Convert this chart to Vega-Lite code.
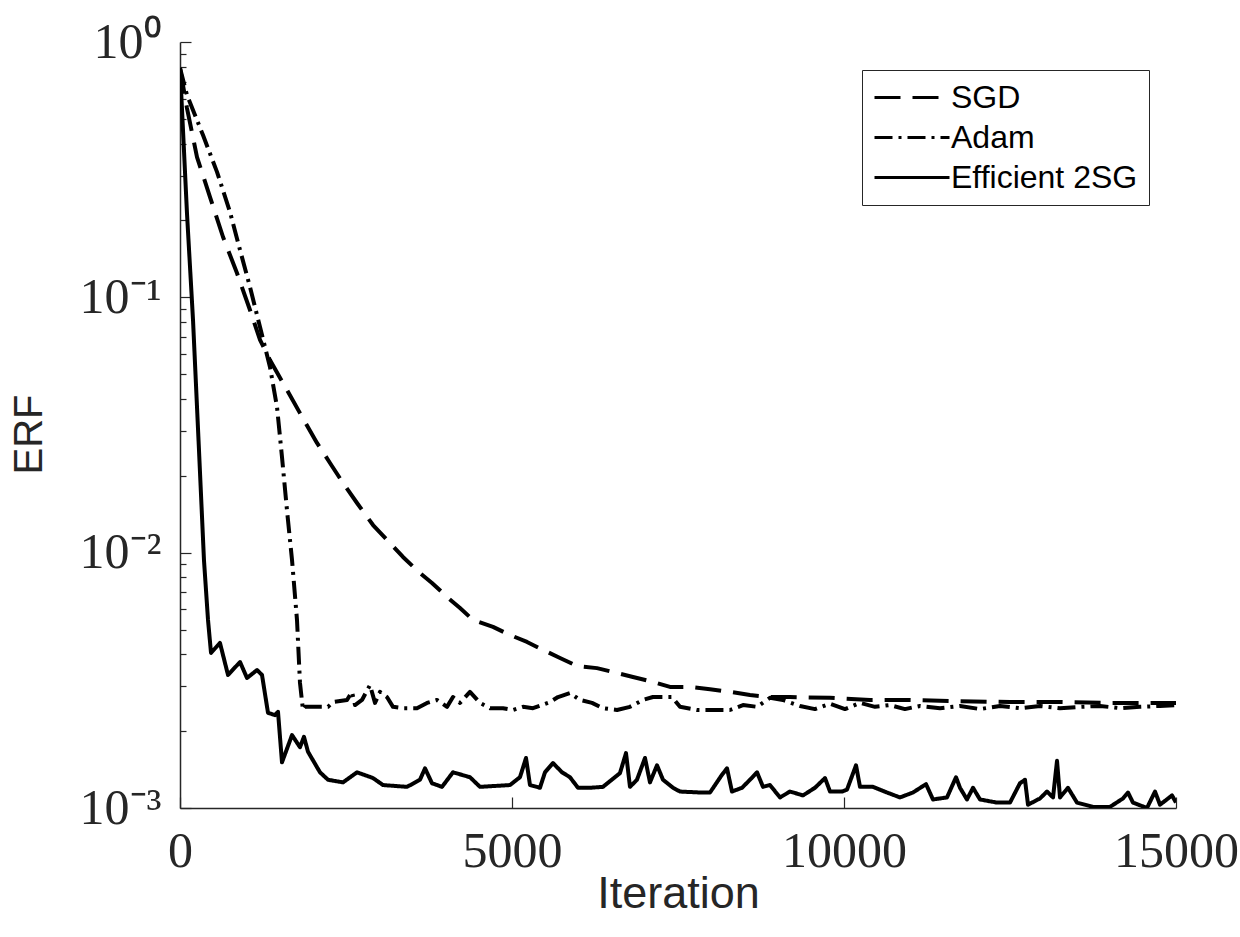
{
"$schema": "https://vega.github.io/schema/vega-lite/v6.json",
"autosize": "none",
"width": 996,
"height": 766,
"padding": {"left": 180, "top": 42, "right": 64, "bottom": 129},
"background": "white",
"config": {"view": {"stroke": null}},
"data": {"values": [
{"series":"SGD","iteration":0,"erf":0.791},{"series":"SGD","iteration":105,"erf":0.551},{"series":"SGD","iteration":256,"erf":0.3544},{"series":"SGD","iteration":452,"erf":0.247},{"series":"SGD","iteration":648,"erf":0.1723},{"series":"SGD","iteration":858,"erf":0.1245},{"series":"SGD","iteration":1054,"erf":0.0892},{"series":"SGD","iteration":1205,"erf":0.0681},{"series":"SGD","iteration":1355,"erf":0.0568},{"series":"SGD","iteration":1551,"erf":0.0462},{"series":"SGD","iteration":1807,"erf":0.0352},{"series":"SGD","iteration":2063,"erf":0.0269},{"series":"SGD","iteration":2259,"erf":0.02245},{"series":"SGD","iteration":2455,"erf":0.01874},{"series":"SGD","iteration":2666,"erf":0.01565},{"series":"SGD","iteration":2907,"erf":0.01283},{"series":"SGD","iteration":3358,"erf":0.00962},{"series":"SGD","iteration":3614,"erf":0.00832},{"series":"SGD","iteration":3795,"erf":0.00761},{"series":"SGD","iteration":4021,"erf":0.00671},{"series":"SGD","iteration":4217,"erf":0.00607},{"series":"SGD","iteration":4413,"erf":0.00545},{"series":"SGD","iteration":4714,"erf":0.00512},{"series":"SGD","iteration":4970,"erf":0.00476},{"series":"SGD","iteration":5226,"erf":0.00447},{"series":"SGD","iteration":5467,"erf":0.00416},{"series":"SGD","iteration":5723,"erf":0.00387},{"series":"SGD","iteration":5979,"erf":0.0036},{"series":"SGD","iteration":6280,"erf":0.00353},{"series":"SGD","iteration":6581,"erf":0.00338},{"series":"SGD","iteration":6822,"erf":0.00326},{"series":"SGD","iteration":7123,"erf":0.00312},{"series":"SGD","iteration":7379,"erf":0.00298},{"series":"SGD","iteration":7681,"erf":0.00298},{"series":"SGD","iteration":7982,"erf":0.00292},{"series":"SGD","iteration":8283,"erf":0.00285},{"series":"SGD","iteration":8584,"erf":0.00277},{"series":"SGD","iteration":8885,"erf":0.00272},{"series":"SGD","iteration":9187,"erf":0.00272},{"series":"SGD","iteration":9789,"erf":0.0027},{"series":"SGD","iteration":10392,"erf":0.00265},{"series":"SGD","iteration":10994,"erf":0.00265},{"series":"SGD","iteration":11747,"erf":0.00262},{"series":"SGD","iteration":12500,"erf":0.0026},{"series":"SGD","iteration":13253,"erf":0.0026},{"series":"SGD","iteration":14006,"erf":0.00258},{"series":"SGD","iteration":15000,"erf":0.00258},
{"series":"Adam","iteration":0,"erf":0.791},{"series":"Adam","iteration":105,"erf":0.62},{"series":"Adam","iteration":346,"erf":0.432},{"series":"Adam","iteration":557,"erf":0.31},{"series":"Adam","iteration":753,"erf":0.216},{"series":"Adam","iteration":904,"erf":0.1532},{"series":"Adam","iteration":1054,"erf":0.1098},{"series":"Adam","iteration":1205,"erf":0.0765},{"series":"Adam","iteration":1355,"erf":0.0534},{"series":"Adam","iteration":1461,"erf":0.0372},{"series":"Adam","iteration":1536,"erf":0.0237},{"series":"Adam","iteration":1611,"erf":0.01469},{"series":"Adam","iteration":1687,"erf":0.00936},{"series":"Adam","iteration":1762,"erf":0.00545},{"series":"Adam","iteration":1807,"erf":0.00309},{"series":"Adam","iteration":1852,"erf":0.00242},{"series":"Adam","iteration":1883,"erf":0.00249},{"series":"Adam","iteration":2229,"erf":0.00249},{"series":"Adam","iteration":2304,"erf":0.0026},{"series":"Adam","iteration":2515,"erf":0.00265},{"series":"Adam","iteration":2590,"erf":0.00285},{"series":"Adam","iteration":2636,"erf":0.00253},{"series":"Adam","iteration":2741,"erf":0.00265},{"series":"Adam","iteration":2861,"erf":0.00303},{"series":"Adam","iteration":2937,"erf":0.00258},{"series":"Adam","iteration":3012,"erf":0.00285},{"series":"Adam","iteration":3117,"erf":0.00272},{"series":"Adam","iteration":3208,"erf":0.00249},{"series":"Adam","iteration":3358,"erf":0.00246},{"series":"Adam","iteration":3569,"erf":0.00246},{"series":"Adam","iteration":3720,"erf":0.00258},{"series":"Adam","iteration":3870,"erf":0.00265},{"series":"Adam","iteration":4021,"erf":0.00249},{"series":"Adam","iteration":4111,"erf":0.00272},{"series":"Adam","iteration":4217,"erf":0.00258},{"series":"Adam","iteration":4367,"erf":0.00285},{"series":"Adam","iteration":4518,"erf":0.00258},{"series":"Adam","iteration":4669,"erf":0.00246},{"series":"Adam","iteration":4864,"erf":0.00246},{"series":"Adam","iteration":5015,"erf":0.00242},{"series":"Adam","iteration":5166,"erf":0.00249},{"series":"Adam","iteration":5316,"erf":0.00246},{"series":"Adam","iteration":5572,"erf":0.0026},{"series":"Adam","iteration":5693,"erf":0.00272},{"series":"Adam","iteration":5873,"erf":0.00282},{"series":"Adam","iteration":6024,"erf":0.00265},{"series":"Adam","iteration":6205,"erf":0.00258},{"series":"Adam","iteration":6370,"erf":0.00246},{"series":"Adam","iteration":6581,"erf":0.00242},{"series":"Adam","iteration":6777,"erf":0.00249},{"series":"Adam","iteration":6973,"erf":0.00265},{"series":"Adam","iteration":7123,"erf":0.00272},{"series":"Adam","iteration":7304,"erf":0.00272},{"series":"Adam","iteration":7410,"erf":0.00272},{"series":"Adam","iteration":7530,"erf":0.00249},{"series":"Adam","iteration":7786,"erf":0.00242},{"series":"Adam","iteration":8087,"erf":0.00242},{"series":"Adam","iteration":8283,"erf":0.00242},{"series":"Adam","iteration":8479,"erf":0.00253},{"series":"Adam","iteration":8690,"erf":0.00249},{"series":"Adam","iteration":8885,"erf":0.0027},{"series":"Adam","iteration":9081,"erf":0.00265},{"series":"Adam","iteration":9337,"erf":0.00251},{"series":"Adam","iteration":9563,"erf":0.00244},{"series":"Adam","iteration":9789,"erf":0.00256},{"series":"Adam","iteration":10015,"erf":0.00244},{"series":"Adam","iteration":10241,"erf":0.00258},{"series":"Adam","iteration":10467,"erf":0.00249},{"series":"Adam","iteration":10693,"erf":0.00253},{"series":"Adam","iteration":10918,"erf":0.00244},{"series":"Adam","iteration":11144,"erf":0.00251},{"series":"Adam","iteration":11446,"erf":0.00246},{"series":"Adam","iteration":11747,"erf":0.00251},{"series":"Adam","iteration":12048,"erf":0.00244},{"series":"Adam","iteration":12349,"erf":0.00251},{"series":"Adam","iteration":12650,"erf":0.00246},{"series":"Adam","iteration":12952,"erf":0.00251},{"series":"Adam","iteration":13253,"erf":0.00246},{"series":"Adam","iteration":13554,"erf":0.00249},{"series":"Adam","iteration":13855,"erf":0.00251},{"series":"Adam","iteration":14156,"erf":0.00246},{"series":"Adam","iteration":14458,"erf":0.00249},{"series":"Adam","iteration":14759,"erf":0.00251},{"series":"Adam","iteration":15000,"erf":0.00253},
{"series":"Efficient 2SG","iteration":0,"erf":0.791},{"series":"Efficient 2SG","iteration":105,"erf":0.214},{"series":"Efficient 2SG","iteration":196,"erf":0.0815},{"series":"Efficient 2SG","iteration":286,"erf":0.0252},{"series":"Efficient 2SG","iteration":361,"erf":0.00935},{"series":"Efficient 2SG","iteration":422,"erf":0.00545},{"series":"Efficient 2SG","iteration":467,"erf":0.00405},{"series":"Efficient 2SG","iteration":602,"erf":0.00443},{"series":"Efficient 2SG","iteration":723,"erf":0.00332},{"series":"Efficient 2SG","iteration":904,"erf":0.00373},{"series":"Efficient 2SG","iteration":1009,"erf":0.00323},{"series":"Efficient 2SG","iteration":1160,"erf":0.00347},{"series":"Efficient 2SG","iteration":1235,"erf":0.00332},{"series":"Efficient 2SG","iteration":1325,"erf":0.00236},{"series":"Efficient 2SG","iteration":1431,"erf":0.00231},{"series":"Efficient 2SG","iteration":1476,"erf":0.00238},{"series":"Efficient 2SG","iteration":1536,"erf":0.00151},{"series":"Efficient 2SG","iteration":1687,"erf":0.00193},{"series":"Efficient 2SG","iteration":1807,"erf":0.00173},{"series":"Efficient 2SG","iteration":1867,"erf":0.0019},{"series":"Efficient 2SG","iteration":1928,"erf":0.00166},{"series":"Efficient 2SG","iteration":2108,"erf":0.00138},{"series":"Efficient 2SG","iteration":2229,"erf":0.00129},{"series":"Efficient 2SG","iteration":2455,"erf":0.00126},{"series":"Efficient 2SG","iteration":2666,"erf":0.00138},{"series":"Efficient 2SG","iteration":2907,"erf":0.00131},{"series":"Efficient 2SG","iteration":3057,"erf":0.00123},{"series":"Efficient 2SG","iteration":3419,"erf":0.00121},{"series":"Efficient 2SG","iteration":3614,"erf":0.00129},{"series":"Efficient 2SG","iteration":3690,"erf":0.00143},{"series":"Efficient 2SG","iteration":3795,"erf":0.00125},{"series":"Efficient 2SG","iteration":3946,"erf":0.00121},{"series":"Efficient 2SG","iteration":4111,"erf":0.00138},{"series":"Efficient 2SG","iteration":4367,"erf":0.00132},{"series":"Efficient 2SG","iteration":4518,"erf":0.00121},{"series":"Efficient 2SG","iteration":4970,"erf":0.00123},{"series":"Efficient 2SG","iteration":5120,"erf":0.00132},{"series":"Efficient 2SG","iteration":5211,"erf":0.00157},{"series":"Efficient 2SG","iteration":5271,"erf":0.00123},{"series":"Efficient 2SG","iteration":5421,"erf":0.0012},{"series":"Efficient 2SG","iteration":5497,"erf":0.00138},{"series":"Efficient 2SG","iteration":5617,"erf":0.0015},{"series":"Efficient 2SG","iteration":5753,"erf":0.00138},{"series":"Efficient 2SG","iteration":5873,"erf":0.00132},{"series":"Efficient 2SG","iteration":5994,"erf":0.0012},{"series":"Efficient 2SG","iteration":6175,"erf":0.0012},{"series":"Efficient 2SG","iteration":6370,"erf":0.00121},{"series":"Efficient 2SG","iteration":6626,"erf":0.00137},{"series":"Efficient 2SG","iteration":6717,"erf":0.00164},{"series":"Efficient 2SG","iteration":6777,"erf":0.00121},{"series":"Efficient 2SG","iteration":6882,"erf":0.00129},{"series":"Efficient 2SG","iteration":7003,"erf":0.00157},{"series":"Efficient 2SG","iteration":7078,"erf":0.00126},{"series":"Efficient 2SG","iteration":7184,"erf":0.00147},{"series":"Efficient 2SG","iteration":7274,"erf":0.00129},{"series":"Efficient 2SG","iteration":7425,"erf":0.0012},{"series":"Efficient 2SG","iteration":7530,"erf":0.00116},{"series":"Efficient 2SG","iteration":7831,"erf":0.00115},{"series":"Efficient 2SG","iteration":7982,"erf":0.00115},{"series":"Efficient 2SG","iteration":8163,"erf":0.00135},{"series":"Efficient 2SG","iteration":8238,"erf":0.00143},{"series":"Efficient 2SG","iteration":8313,"erf":0.00116},{"series":"Efficient 2SG","iteration":8464,"erf":0.0012},{"series":"Efficient 2SG","iteration":8584,"erf":0.00129},{"series":"Efficient 2SG","iteration":8690,"erf":0.00138},{"series":"Efficient 2SG","iteration":8780,"erf":0.00121},{"series":"Efficient 2SG","iteration":8885,"erf":0.00123},{"series":"Efficient 2SG","iteration":9036,"erf":0.0011},{"series":"Efficient 2SG","iteration":9187,"erf":0.00116},{"series":"Efficient 2SG","iteration":9382,"erf":0.00112},{"series":"Efficient 2SG","iteration":9563,"erf":0.0012},{"series":"Efficient 2SG","iteration":9714,"erf":0.00131},{"series":"Efficient 2SG","iteration":9789,"erf":0.00116},{"series":"Efficient 2SG","iteration":9970,"erf":0.00116},{"series":"Efficient 2SG","iteration":10045,"erf":0.00118},{"series":"Efficient 2SG","iteration":10181,"erf":0.00147},{"series":"Efficient 2SG","iteration":10241,"erf":0.00121},{"series":"Efficient 2SG","iteration":10437,"erf":0.00121},{"series":"Efficient 2SG","iteration":10647,"erf":0.00115},{"series":"Efficient 2SG","iteration":10843,"erf":0.0011},{"series":"Efficient 2SG","iteration":11039,"erf":0.00115},{"series":"Efficient 2SG","iteration":11235,"erf":0.00124},{"series":"Efficient 2SG","iteration":11340,"erf":0.00108},{"series":"Efficient 2SG","iteration":11551,"erf":0.0011},{"series":"Efficient 2SG","iteration":11687,"erf":0.00132},{"series":"Efficient 2SG","iteration":11747,"erf":0.0012},{"series":"Efficient 2SG","iteration":11852,"erf":0.00108},{"series":"Efficient 2SG","iteration":11943,"erf":0.0012},{"series":"Efficient 2SG","iteration":12048,"erf":0.00108},{"series":"Efficient 2SG","iteration":12304,"erf":0.00105},{"series":"Efficient 2SG","iteration":12500,"erf":0.00105},{"series":"Efficient 2SG","iteration":12650,"erf":0.00125},{"series":"Efficient 2SG","iteration":12726,"erf":0.00129},{"series":"Efficient 2SG","iteration":12771,"erf":0.00103},{"series":"Efficient 2SG","iteration":12952,"erf":0.00109},{"series":"Efficient 2SG","iteration":13057,"erf":0.00116},{"series":"Efficient 2SG","iteration":13148,"erf":0.0011},{"series":"Efficient 2SG","iteration":13208,"erf":0.00153},{"series":"Efficient 2SG","iteration":13253,"erf":0.0011},{"series":"Efficient 2SG","iteration":13373,"erf":0.0012},{"series":"Efficient 2SG","iteration":13509,"erf":0.00105},{"series":"Efficient 2SG","iteration":13750,"erf":0.00101},{"series":"Efficient 2SG","iteration":14006,"erf":0.00101},{"series":"Efficient 2SG","iteration":14202,"erf":0.00109},{"series":"Efficient 2SG","iteration":14277,"erf":0.00115},{"series":"Efficient 2SG","iteration":14352,"erf":0.00105},{"series":"Efficient 2SG","iteration":14563,"erf":0.001},{"series":"Efficient 2SG","iteration":14684,"erf":0.00116},{"series":"Efficient 2SG","iteration":14759,"erf":0.00103},{"series":"Efficient 2SG","iteration":14940,"erf":0.00112},{"series":"Efficient 2SG","iteration":15000,"erf":0.00105}
]},
"mark": {"type": "line", "color": "black", "strokeWidth": 4, "clip": true, "strokeJoin": "round"},
"encoding": {
"x": {"field": "iteration", "type": "quantitative",
"scale": {"domain": [0, 15000], "nice": false, "zero": false},
"axis": {"values": [0, 5000, 10000, 15000], "format": "d", "title": "Iteration", "grid": false,
"domainColor": "#262626", "domainWidth": 1.5, "tickColor": "#262626", "tickSize": -11, "tickWidth": 1.2,
"labelFont": "Liberation Serif", "labelFontSize": 50, "labelColor": "#262626", "labelPadding": 29, "labelFlush": false, "labelOverlap": false, "labelBound": false,
"titleFont": "Liberation Sans", "titleFontSize": 45, "titleFontWeight": "normal", "titleColor": "#262626", "titleX": 498, "titleY": 85, "titleBaseline": "middle"}},
"y": {"field": "erf", "type": "quantitative",
"scale": {"type": "log", "domain": [0.001, 1], "nice": false},
"axis": {"values": [0.001,0.002,0.003,0.004,0.005,0.006,0.007,0.008,0.009,0.01,0.02,0.03,0.04,0.05,0.06,0.07,0.08,0.09,0.1,0.2,0.3,0.4,0.5,0.6,0.7,0.8,0.9,1],
"labelExpr": "datum.value === 1 ? '10⁰' : datum.value === 0.1 ? '10⁻¹' : datum.value === 0.01 ? '10⁻²' : datum.value === 0.001 ? '10⁻³' : ''",
"title": "ERF", "grid": false,
"domainColor": "#262626", "domainWidth": 1.5, "tickColor": "#262626", "tickWidth": 1.2,
"tickSize": {"condition": {"test": "datum.value === 1 || datum.value === 0.1 || datum.value === 0.01 || datum.value === 0.001", "value": -11}, "value": -6},
"labelFont": "Liberation Serif", "labelFontSize": 50, "labelColor": "#262626", "labelPadding": 30, "labelOverlap": false, "labelBound": false, "labelFlush": false,
"titleFont": "Liberation Sans", "titleFontSize": 40, "titleFontWeight": "normal", "titleColor": "#262626", "titleX": -151, "titleY": 392, "titleAngle": 270, "titleBaseline": "middle", "titleAlign": "center"}},
"strokeDash": {"field": "series", "type": "nominal",
"scale": {"domain": ["SGD", "Adam", "Efficient 2SG"], "range": [[26, 12], [18, 6, 3, 6], [1, 0]]},
"legend": {"title": null, "orient": "none", "legendX": 682, "legendY": 28, "symbolType": "M-1,0H4", "symbolSize": 900, "symbolStrokeWidth": 3, "symbolStrokeColor": "black",
"labelFont": "Liberation Sans", "labelFontSize": 32, "labelColor": "black", "labelOffset": 45, "labelLimit": 400,
"padding": 11, "rowPadding": 7, "strokeColor": "#262626", "fillColor": "white"}}
}
}
